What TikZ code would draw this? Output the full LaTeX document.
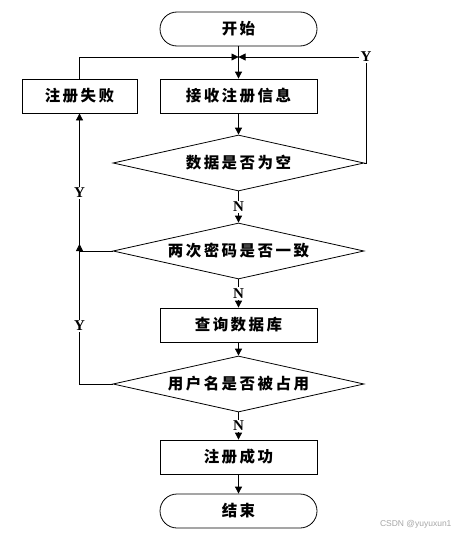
\documentclass[tikz,border=0pt]{standalone}
\usepackage{fontspec}
\setmainfont{Liberation Serif}
\newfontfamily\cjk[LetterSpace=16]{Noto Sans CJK SC}
\newfontfamily\wmfont{Liberation Sans}
\usetikzlibrary{shapes.geometric,arrows.meta}
\tikzset{
  base/.style={draw, line width=0.8pt, font=\cjk\bfseries\fontsize{15.5}{17}\selectfont, inner sep=1pt},
  term/.style={base, rectangle, rounded corners=17pt, minimum width=157pt, minimum height=34pt},
  proc/.style={base, rectangle, minimum width=157pt, minimum height=34pt},
  dec/.style={base, diamond, aspect=4.5, minimum width=251pt, minimum height=56pt},
  arr/.style={line width=0.8pt, -{Triangle[length=7pt,width=7pt]}},
  ln/.style={line width=0.8pt},
  lbl/.style={fill=white, inner sep=1.5pt, font=\bfseries\fontsize{15}{15}\selectfont}
}
\begin{document}
\begin{tikzpicture}[x=1pt,y=-1pt]
\useasboundingbox (0,0) rectangle (457,535);
\node[term] (start) at (238.5,29) {开始};
\node[proc, minimum width=115pt] (fail) at (79.5,96) {注册失败};
\node[proc] (recv) at (238.5,96) {接收注册信息};
\node[dec] (d1) at (238.5,163) {数据是否为空};
\node[dec] (d2) at (238.5,251) {两次密码是否一致};
\node[proc] (query) at (238.5,325) {查询数据库};
\node[dec] (d3) at (238.5,384) {用户名是否被占用};
\node[proc] (ok) at (238.5,457) {注册成功};
\node[term] (end) at (238.5,511) {结束};
\coordinate (j) at (238.5,57);
\coordinate (yc) at (366,57);
\coordinate (m) at (79.5,244);
\draw[arr] (start) -- (recv);
\draw[arr] (fail.north) |- (j);
\draw[arr] (d1.east) -| (yc) -- (j);
\node[lbl] (y1) at (yc) {Y};
\draw[arr] (recv) -- (d1);
\draw[arr] (d1) -- node[lbl] (n1) {N} (d2);
\draw[arr] (d2) -- node[lbl] (n2) {N} (query);
\draw[arr] (query) -- (d3);
\draw[arr] (d3) -- node[lbl] (n3) {N} (ok);
\draw[arr] (ok) -- (end);
\draw[arr] (d2.west) -| (fail.south);
\draw[arr] (d3.west) -| (m);
\node[lbl] (y2) at (79.5,193) {Y};
\node[lbl] (y3) at (79.5,326) {Y};
\node[font=\wmfont\fontsize{8.5}{9}\selectfont, text=black!35, anchor=east] (wm) at (455,524) {CSDN @yuyuxun1};
\end{tikzpicture}
\end{document}
